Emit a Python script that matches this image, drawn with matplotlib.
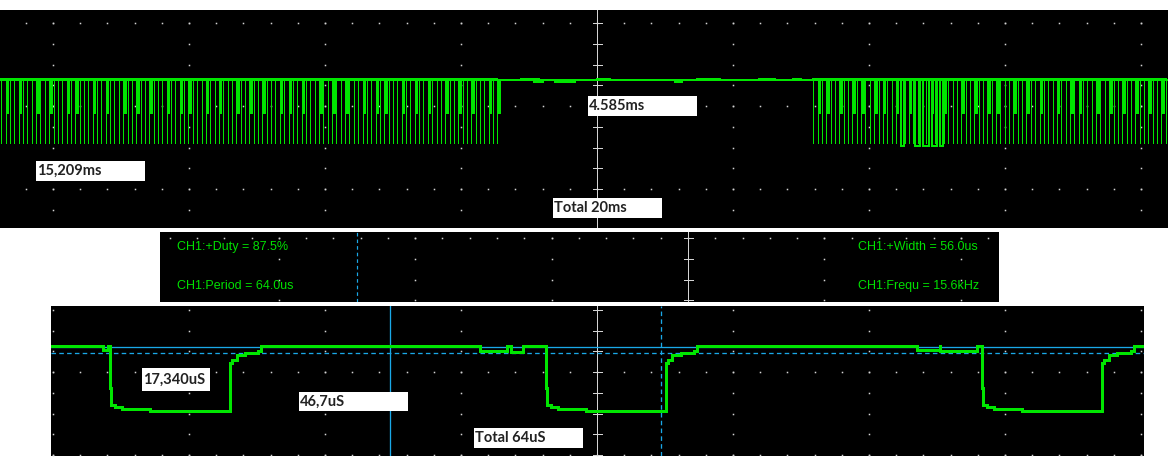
import numpy as np
import matplotlib.pyplot as plt
from matplotlib.patches import Rectangle

W, H = 1168, 469
PX = 0.72  # points per pixel at dpi 100

GREEN = '#00e600'
CYAN = '#1aa8e8'
GRID = '#d4d4d4'

# ---- top screen: 2 ms/div, time in ms, level in div ----
top_period_ms = 0.064
top_high = 0.31
top_low_long = -0.45
top_low_short = -0.09
burst1_start_ms = -8.76
burst1_pattern = ("LSLLSLLLSL" "LSLLLSLSLL" "LSLLSLLLSL" "LSLLSLLLSL" "LSLSLLLSLL"
                  "SLLLSLLSLL" "SLLLSLSLLS" "LLLSLLSLLS" "LLLSLLSLSL" "LLSLLSLLSL"
                  "LLSLLSLLSL" "LLSLS")
burst2_start_ms = 3.18
burst2_pattern = ("LSLSLLSLLS" "LSLLSLSLLS" "LLSLSLLSLL" "SLLLSLLSLL" "SLSLLLSLLS"
                  "LLSLLLSLLS" "LSLLLSLLSL" "LSLLSLLSLL" "SL")
glitch_lows_ms = [(4.47, 4.51), (4.68, 4.75), (4.79, 4.88), (4.93, 5.00), (5.04, 5.09)]
glitch_low = -0.48
# thicker noisy stretches of the idle high level (start, end, offset in div)
idle_noise_ms = [(-1.12, -0.85, 0.014), (-0.93, -0.79, -0.016), (-0.62, -0.32, -0.016),
                 (0.0, 0.19, 0.014), (1.47, 1.81, 0.014), (2.38, 2.62, 0.014),
                 (1.15, 1.25, -0.016), (2.88, 3.0, 0.014)]

# ---- bottom screen: 20 us/div, time in us ----
bot_high = 0.31
bot_low = -0.47
fall_us = [-71.6, -7.5, 56.6]
rise_us = [-54.0, 10.1, 74.3]
fall_shape_dt = [0.0, 0.0, 0.15, 0.15, 0.7, 0.7, 1.8, 1.8, 5.9, 5.9]
fall_shape_lvl = [0.31, -0.19, -0.19, -0.40, -0.40, -0.42, -0.42, -0.445, -0.445, -0.47]
rise_shape_dt = [0.0, 0.0, 0.3, 0.3, 1.0, 1.0, 2.2, 2.2, 4.2, 4.2, 4.6, 4.6]
rise_shape_lvl = [-0.47, 0.11, 0.11, 0.145, 0.145, 0.20, 0.20, 0.23, 0.23, 0.25, 0.25, 0.31]
sags_us = [(-72.6, -71.9, 0.265), (-17.2, -13.2, 0.25), (-12.6, -10.9, 0.235),
           (47.1, 50.5, 0.27), (50.5, 55.9, 0.25)]
cursor_solid_t = -30.4
cursor_dash_t = 9.4
cursor_solid_lvl = 0.30
cursor_dash_lvl = 0.23
mid_cursor_dash = -2.43

measurements = [("CH1:+Duty = 87.5%", 177, 247), ("CH1:Period = 64.0us", 177, 286),
                ("CH1:+Width = 56.0us", 858, 247), ("CH1:Frequ = 15.6kHz", 858, 286)]
labels = [("15,209ms", 36, 161, 109, 20), ("4.585ms", 588, 96, 109, 20),
          ("Total 20ms", 553, 198, 109, 20), ("17,340uS", 142, 368, 68, 23),
          ("46,7uS", 299, 392, 109, 19), ("Total 64uS", 474, 428, 109, 20)]

fig = plt.figure(figsize=(W / 100, H / 100), dpi=100)
fig.patch.set_facecolor('white')


def panel(left, top, width, height, x0, y0, xs, ys):
    ax = fig.add_axes([left / W, 1 - (top + height) / H, width / W, height / H])
    ax.set_xlim((left - x0) / xs, (left + width - x0) / xs)
    ax.set_ylim((y0 - (top + height)) / ys, (y0 - top) / ys)
    ax.set_facecolor('black')
    ax.set_xticks([])
    ax.set_yticks([])
    for s in ax.spines.values():
        s.set_visible(False)
    ax.xs, ax.ys = xs, ys
    return ax


def grid(ax, major, minor, rows):
    x_lo, x_hi = ax.get_xlim()
    y_lo, y_hi = ax.get_ylim()
    mx = np.arange(np.ceil(x_lo / minor) * minor, x_hi, minor)
    for r in rows:
        ax.plot(mx, np.full(len(mx), r), ls='none', marker='s', ms=1.1, color=GRID,
                mew=0, antialiased=False, zorder=1)
    cols = np.arange(np.ceil(x_lo / major) * major, x_hi, major)
    qy = np.arange(np.ceil(y_lo / 0.25) * 0.25, y_hi, 0.25)
    for c in cols:
        if abs(c) < 1e-9:
            continue
        ax.plot(np.full(len(qy), c), qy, ls='none', marker='s', ms=1.1, color=GRID,
                mew=0, antialiased=False, zorder=1)
    # centre axis with ticks
    ax.axvline(0, color=GRID, lw=1.0 * PX, antialiased=False, zorder=1)
    half = 4.5 / ax.xs
    ax.hlines(qy, -half, half, color=GRID, lw=1.0 * PX, antialiased=False, zorder=1)


# ---------- top panel ----------
top = panel(0, 10, 1168, 218, 597, 106, 68.0, 83.0)
grid(top, 2.0, 0.4, [1.0, 0.0, -1.0])
tx0, tx1 = top.get_xlim()
top.plot([tx0, tx1], [top_high, top_high], color=GREEN, lw=2 * PX, antialiased=False, zorder=3)
for a, b, off in idle_noise_ms:
    top.plot([a, b], [top_high + off, top_high + off], color=GREEN, lw=2 * PX,
             antialiased=False, zorder=3)
for start, pattern in [(burst1_start_ms, burst1_pattern), (burst2_start_ms, burst2_pattern)]:
    t = start + top_period_ms * np.arange(len(pattern))
    short = np.array([c == 'S' for c in pattern])
    top.plot([t[0], t[-1]], [top_high + 0.015, top_high + 0.015], color=GREEN, lw=1.5 * PX,
             antialiased=False, zorder=3)
    top.vlines(t, top_low_long, top_high, color=GREEN, lw=1 * PX, antialiased=False, zorder=3)
    top.vlines(t[short] + 0.022, top_low_short, top_high, color=GREEN, lw=2.6 * PX,
               antialiased=False, zorder=3)
for a, b in glitch_lows_ms:
    top.plot([a, a, b, b], [top_high, glitch_low, glitch_low, top_high], color=GREEN,
             lw=1.5 * PX, antialiased=False, zorder=3)

# ---------- middle panel ----------
mid = panel(160, 232, 839, 70, 688, 238, 136.4, 83.0)
grid(mid, 1.0, 0.2, [0.0])
mid.axvline(mid_cursor_dash, color=CYAN, lw=1.2 * PX, ls=(0, (3, 2.5)), zorder=2)
for text, x, y in measurements:
    fig.text(x / W, 1 - y / H, text, color='#00e000', fontsize=9, family='Liberation Sans',
             va='center', ha='left', zorder=12)

# ---------- bottom panel ----------
bot = panel(51, 306, 1093, 150, 597, 372, 6.8, 83.0)
grid(bot, 20.0, 4.0, [0.0, -1.0])
bot.axhline(cursor_solid_lvl, color=CYAN, lw=1.3 * PX, zorder=2)
bot.axhline(cursor_dash_lvl, color=CYAN, lw=1.3 * PX, ls=(0, (3.5, 2.5)), zorder=2)
bot.axvline(cursor_solid_t, color=CYAN, lw=1.3 * PX, zorder=2)
bot.axvline(cursor_dash_t, color=CYAN, lw=1.3 * PX, ls=(0, (3.5, 2.5)), zorder=2)

bx0, bx1 = bot.get_xlim()
tr_t, tr_y = [bx0], [bot_high]
for f, r in zip(fall_us, rise_us):
    for a, b, lvl in sags_us:
        if f - 20 < a < f:
            tr_t += [a, a, b, b]
            tr_y += [bot_high, lvl, lvl, bot_high]
    tr_t += [f + d for d in fall_shape_dt]
    tr_y += fall_shape_lvl
    tr_t += [r + d for d in rise_shape_dt]
    tr_y += rise_shape_lvl
tr_t.append(bx1)
tr_y.append(bot_high)
bot.plot(tr_t, tr_y, color=GREEN, lw=2.8 * PX, antialiased=False, zorder=3)

# ---------- label boxes ----------
for text, x, y, w, h in labels:
    fig.add_artist(Rectangle((x / W, 1 - (y + h) / H), w / W, h / H, transform=fig.transFigure,
                             facecolor='white', edgecolor='none', zorder=10))
    fig.text((x + 1) / W, 1 - (y + h / 2) / H, text, color='#222222', fontsize=10.5,
             family='Lato', weight='bold', va='center', ha='left', zorder=11)

fig.savefig('out.png', dpi=100, facecolor='white')
